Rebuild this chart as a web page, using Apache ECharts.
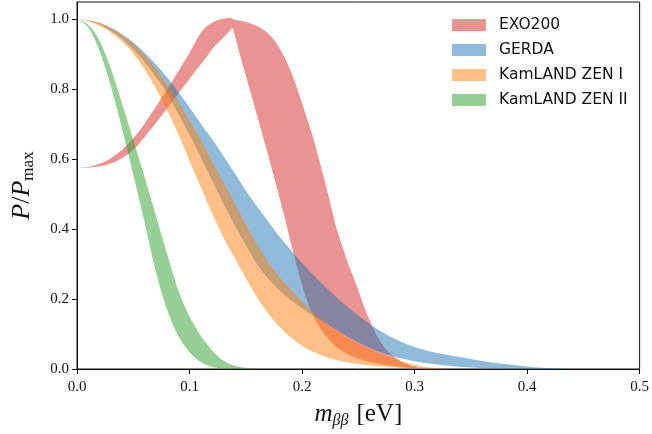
<!DOCTYPE html>
<html>
<head>
<meta charset="utf-8">
<script src="https://cdn.jsdelivr.net/npm/echarts@6/dist/echarts.min.js"></script>
<style>
  html, body { margin: 0; padding: 0; background: #fff; }
  #chart { width: 652px; height: 434px; }
</style>
</head>
<body>
<div id="chart"></div>
<script>
// tick labels
const xTicks = [0, 0.1, 0.2, 0.3, 0.4, 0.5];
const yTicks = [0, 0.2, 0.4, 0.6, 0.8, 1.0];

const seriesNames = ['EXO200', 'GERDA', 'KamLAND ZEN I', 'KamLAND ZEN II'];

// EXO200 band (lower / upper edge)
const exoX = [0, 0.01, 0.02, 0.03, 0.04, 0.05, 0.06, 0.07, 0.08, 0.09, 0.10, 0.105, 0.11, 0.115, 0.12, 0.125,
  0.13, 0.135, 0.138, 0.14, 0.145, 0.15, 0.155, 0.16, 0.165, 0.17, 0.175, 0.18, 0.185, 0.19, 0.195, 0.20,
  0.205, 0.21, 0.215, 0.22, 0.225, 0.23, 0.235, 0.24, 0.245, 0.25, 0.255, 0.26, 0.265, 0.27, 0.275, 0.28,
  0.285, 0.29, 0.30, 0.31];
const exoLow = [0.575, 0.576, 0.58, 0.588, 0.603, 0.627, 0.663, 0.703, 0.745, 0.788, 0.83, 0.851, 0.872, 0.893, 0.915, 0.932,
  0.948, 0.965, 0.975, 0.958, 0.897, 0.84, 0.783, 0.725, 0.668, 0.61, 0.55, 0.49, 0.428, 0.362, 0.298, 0.24,
  0.19, 0.152, 0.123, 0.1, 0.081, 0.065, 0.053, 0.043, 0.035, 0.029, 0.024, 0.02, 0.017, 0.014, 0.011, 0.009,
  0.007, 0.005, 0.002, 0];
const exoHigh = [0.575, 0.578, 0.587, 0.603, 0.627, 0.66, 0.702, 0.75, 0.8, 0.852, 0.905, 0.935, 0.962, 0.98, 0.99, 0.998,
  1.002, 1.005, 1.003, 0.999, 0.996, 0.993, 0.988, 0.981, 0.972, 0.96, 0.942, 0.918, 0.888, 0.852, 0.808, 0.76,
  0.71, 0.66, 0.6, 0.54, 0.475, 0.41, 0.358, 0.31, 0.268, 0.225, 0.178, 0.14, 0.105, 0.077, 0.055, 0.04,
  0.028, 0.018, 0.006, 0];

// GERDA band
const gerdaX = [0, 0.01, 0.02, 0.03, 0.04, 0.05, 0.06, 0.07, 0.08, 0.09, 0.10, 0.11, 0.12, 0.13, 0.14, 0.15, 0.16,
  0.17, 0.18, 0.19, 0.20, 0.21, 0.22, 0.23, 0.24, 0.25, 0.26, 0.27, 0.28, 0.29, 0.30, 0.31, 0.32, 0.33, 0.34,
  0.36, 0.38, 0.40, 0.42, 0.44];
const gerdaLow = [1, 0.996, 0.986, 0.968, 0.945, 0.915, 0.878, 0.836, 0.79, 0.73, 0.67, 0.606, 0.54, 0.474, 0.412, 0.354, 0.3,
  0.258, 0.224, 0.197, 0.174, 0.153, 0.134, 0.113, 0.094, 0.076, 0.061, 0.048, 0.038, 0.029, 0.022, 0.017, 0.013, 0.009, 0.006,
  0.003, 0.001, 0, 0, 0];
const gerdaHigh = [1, 0.998, 0.99, 0.977, 0.958, 0.935, 0.905, 0.872, 0.835, 0.793, 0.748, 0.702, 0.658, 0.61, 0.561, 0.511, 0.465,
  0.421, 0.379, 0.34, 0.303, 0.269, 0.237, 0.207, 0.179, 0.153, 0.129, 0.108, 0.09, 0.075, 0.063, 0.053, 0.046, 0.04, 0.034,
  0.023, 0.014, 0.007, 0.002, 0];

// KamLAND ZEN I band
const kz1X = [0, 0.01, 0.02, 0.03, 0.04, 0.05, 0.06, 0.07, 0.08, 0.09, 0.10, 0.11, 0.12, 0.13, 0.14, 0.15, 0.16,
  0.17, 0.18, 0.19, 0.20, 0.21, 0.22, 0.23, 0.24, 0.25, 0.26, 0.27, 0.28, 0.29, 0.30, 0.31, 0.32, 0.33];
const kz1Low = [1, 0.995, 0.982, 0.963, 0.937, 0.903, 0.857, 0.803, 0.74, 0.672, 0.595, 0.52, 0.445, 0.378, 0.318, 0.26, 0.205,
  0.158, 0.12, 0.09, 0.066, 0.049, 0.036, 0.026, 0.019, 0.014, 0.01, 0.007, 0.005, 0.003, 0.002, 0.001, 0, 0];
const kz1High = [1, 0.997, 0.99, 0.975, 0.955, 0.93, 0.897, 0.86, 0.815, 0.765, 0.71, 0.655, 0.595, 0.535, 0.475, 0.413, 0.357,
  0.306, 0.262, 0.228, 0.193, 0.16, 0.133, 0.11, 0.09, 0.071, 0.056, 0.043, 0.031, 0.021, 0.012, 0.006, 0.002, 0];

// KamLAND ZEN II band
const kz2X = [0, 0.01, 0.02, 0.03, 0.04, 0.05, 0.06, 0.07, 0.08, 0.09, 0.10, 0.11, 0.12, 0.13, 0.14, 0.15, 0.16];
const kz2Low = [1, 0.977, 0.91, 0.81, 0.688, 0.556, 0.42, 0.28, 0.17, 0.095, 0.048, 0.02, 0.006, 0.002, 0, 0, 0];
const kz2High = [1, 0.985, 0.94, 0.86, 0.76, 0.655, 0.55, 0.44, 0.33, 0.225, 0.15, 0.095, 0.054, 0.024, 0.009, 0.003, 0];

const colors = ['rgba(214,39,40,0.5)', 'rgba(31,119,180,0.5)', 'rgba(255,127,14,0.5)', 'rgba(44,160,44,0.5)'];
const bands = [[exoX, exoLow, exoHigh], [gerdaX, gerdaLow, gerdaHigh], [kz1X, kz1Low, kz1High], [kz2X, kz2Low, kz2High]];

const chart = echarts.init(document.getElementById('chart'));

// smooth curve through pixel points (catmull-rom -> cubic bezier)
function curvePath(pts) {
  let d = '';
  for (let i = 0; i < pts.length - 1; i++) {
    const p0 = pts[Math.max(i - 1, 0)], p1 = pts[i], p2 = pts[i + 1], p3 = pts[Math.min(i + 2, pts.length - 1)];
    const c1 = [p1[0] + (p2[0] - p0[0]) / 6, p1[1] + (p2[1] - p0[1]) / 6];
    const c2 = [p2[0] - (p3[0] - p1[0]) / 6, p2[1] - (p3[1] - p1[1]) / 6];
    d += 'C' + c1.join(',') + ',' + c2.join(',') + ',' + p2.join(',');
  }
  return d;
}

function bandSeries(name, band, color) {
  const [xs, lo, hi] = band;
  return {
    type: 'custom',
    name: name,
    coordinateSystem: 'cartesian2d',
    clip: true,
    silent: true,
    itemStyle: { color: color },
    data: [[xs[0], hi[0]]],
    renderItem: function (params, api) {
      const top = xs.map((x, i) => api.coord([x, hi[i]]));
      const bottom = xs.map((x, i) => api.coord([x, lo[i]])).reverse();
      const d = 'M' + top[0].join(',') + curvePath(top) +
        'L' + bottom[0].join(',') + curvePath(bottom) + 'Z';
      return { type: 'path', shape: { pathData: d }, style: { fill: color, stroke: null } };
    }
  };
}

const serif = 'Liberation Serif';

const option = {
  animation: false,
  backgroundColor: '#fff',
  grid: { left: 77, right: 11, top: 2, bottom: 65, show: true, borderColor: '#111', borderWidth: 1 },
  legend: {
    orient: 'vertical',
    left: 447,
    top: 12,
    icon: 'rect',
    itemWidth: 34,
    itemHeight: 12,
    itemGap: 9,
    selectedMode: false,
    textStyle: { fontFamily: 'DejaVu Sans', fontSize: 15.5, color: '#111', padding: [0, 0, 0, 8] },
    data: seriesNames.map((n, i) => ({ name: n, itemStyle: { color: colors[i] } }))
  },
  xAxis: {
    type: 'value',
    min: 0,
    max: 0.5,
    interval: 0.1,
    splitLine: { show: false },
    axisLine: { lineStyle: { color: '#111', width: 1 } },
    axisTick: { length: 5, lineStyle: { color: '#111' }, customValues: xTicks },
    axisLabel: {
      customValues: xTicks,
      formatter: v => v.toFixed(1),
      color: '#111', fontFamily: serif, fontSize: 15, margin: 11
    },
    name: '{i|m}{s|ββ}{r|[eV]}',
    nameLocation: 'middle',
    nameGap: 30,
    nameTextStyle: {
      rich: {
        i: { fontFamily: serif, fontStyle: 'italic', fontSize: 25, color: '#111', lineHeight: 30 },
        s: { fontFamily: serif, fontStyle: 'italic', fontSize: 16, color: '#111', lineHeight: 16, verticalAlign: 'bottom' },
        r: { fontFamily: serif, fontSize: 25, color: '#111', lineHeight: 30, padding: [0, 0, 0, 8] }
      }
    }
  },
  yAxis: {
    type: 'value',
    min: 0,
    max: 1.05,
    interval: 0.2,
    splitLine: { show: false },
    axisLine: { lineStyle: { color: '#111', width: 1 } },
    axisTick: { length: 5, lineStyle: { color: '#111' }, customValues: yTicks },
    axisLabel: {
      customValues: yTicks,
      formatter: v => v.toFixed(1),
      color: '#111', fontFamily: serif, fontSize: 15, margin: 8
    },
    name: '{i|P}{r|/}{i|P}{s|max}',
    nameLocation: 'middle',
    nameGap: 40,
    nameTextStyle: {
      rich: {
        i: { fontFamily: serif, fontStyle: 'italic', fontSize: 26, color: '#111', lineHeight: 30 },
        s: { fontFamily: serif, fontSize: 17, color: '#111', lineHeight: 16, verticalAlign: 'bottom' },
        r: { fontFamily: serif, fontSize: 26, color: '#111', lineHeight: 30 }
      }
    }
  },
  series: seriesNames.map((n, i) => bandSeries(n, bands[i], colors[i]))
};

chart.setOption(option);
</script>
</body>
</html>
